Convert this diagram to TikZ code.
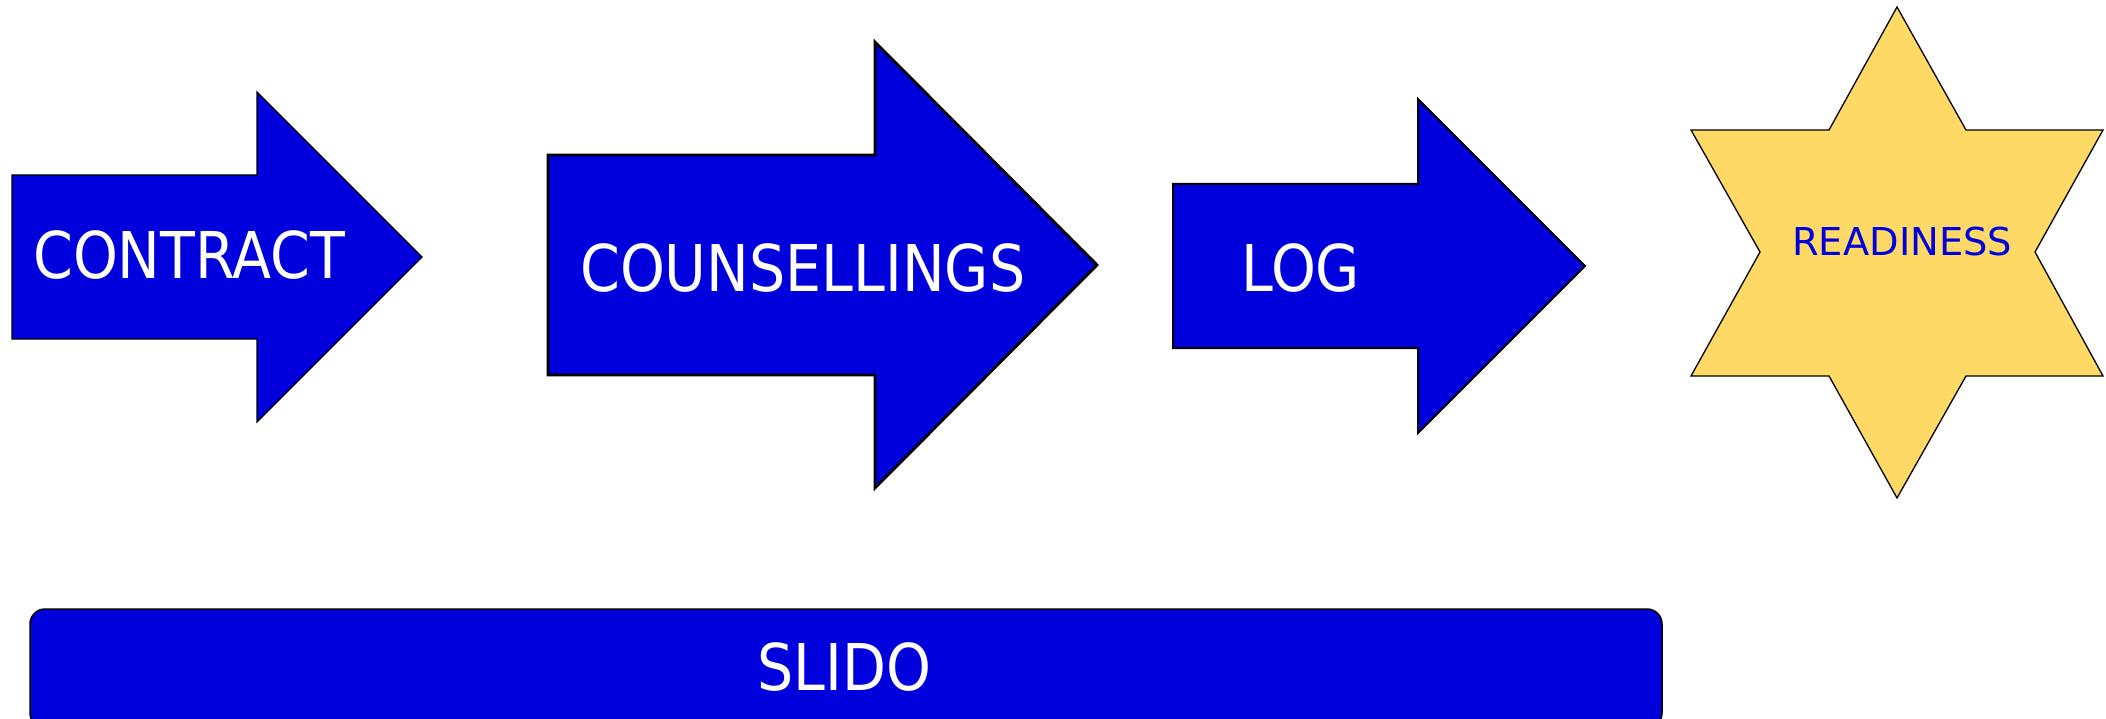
\documentclass[tikz,border=0pt]{standalone}
\usepackage{fontspec}
\setmainfont{DejaVu Sans}
\newfontfamily\narrowfont{DejaVu Sans}[FakeStretch=0.885]
\definecolor{arrowblue}{RGB}{0,0,221}
\definecolor{stargold}{RGB}{255,217,102}
\tikzset{
  bluearrow/.style={fill=arrowblue, draw=black, line join=miter},
  biglabel/.style={text=white, inner sep=0pt, font=\narrowfont\fontsize{64.5}{70}\selectfont},
  starlabel/.style={text=arrowblue, inner sep=0pt, font=\fontsize{38.4}{42}\selectfont},
}
\begin{document}
\begin{tikzpicture}[x=1pt,y=-1pt]
\useasboundingbox (0,0) rectangle (2106,719);
\clip (0,0) rectangle (2106,719);
% CONTRACT arrow
\draw[bluearrow, line width=1.2pt] (12,175) -- (257,175) -- (257,92) -- (422,257) -- (257,422) -- (257,339) -- (12,339) -- cycle;
\node[biglabel, anchor=base west] (contract) at (33,279) {CONTRACT};
% COUNSELLINGS arrow
\draw[bluearrow, line width=2.8pt] (548,155) -- (875,155) -- (875,42) -- (1097,265) -- (875,488) -- (875,375) -- (548,375) -- cycle;
\node[biglabel, anchor=base west] (counsel) at (580,291) {COUNSELLINGS};
% LOG arrow
\draw[bluearrow, line width=2pt] (1173,184) -- (1418,184) -- (1418,99) -- (1585,266) -- (1418,433) -- (1418,348) -- (1173,348) -- cycle;
\node[biglabel, anchor=base west] (log) at (1241,291) {LOG};
% READINESS star
\draw[fill=stargold, draw=black, line width=1.3pt, line join=miter]
  (1897,7) -- (1966,130) -- (2103,130) -- (2035,252) -- (2103,376) -- (1966,376) -- (1897,498) -- (1829,376) -- (1691,376) -- (1760,252) -- (1691,130) -- (1829,130) -- cycle;
\node[starlabel, anchor=base west] (ready) at (1792,256) {READINESS};
% SLIDO box
\draw[fill=arrowblue, draw=black, line width=1.5pt, rounded corners=15pt] (30,609) rectangle (1662,728);
\node[biglabel, anchor=base west] (slido) at (757,690) {SLIDO};
\end{tikzpicture}
\end{document}
